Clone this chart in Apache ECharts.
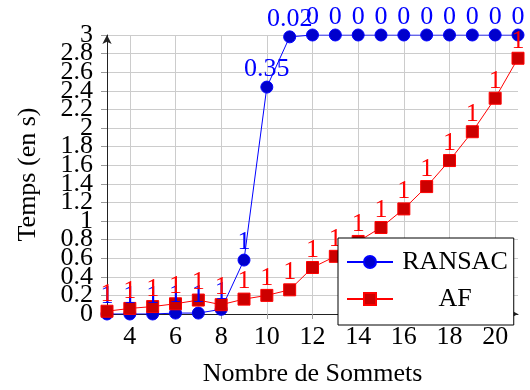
<!DOCTYPE html>
<html>
<head>
<meta charset="utf-8">
<script src="https://cdn.jsdelivr.net/npm/echarts@6/dist/echarts.min.js"></script>
<style>
  html, body { margin: 0; padding: 0; background: #fff; }
  #main { width: 530px; height: 390px; }
</style>
</head>
<body>
<div id="main"></div>
<script>
// données
var sommets = [3, 4, 5, 6, 7, 8, 9, 10, 11, 12, 13, 14, 15, 16, 17, 18, 19, 20, 21];
var ransac = [0.0, 0.0, 0.0, 0.01, 0.01, 0.05, 0.58, 2.44, 2.98, 3, 3, 3, 3, 3, 3, 3, 3, 3, 3];
var af = [0.03, 0.06, 0.08, 0.11, 0.15, 0.10, 0.16, 0.20, 0.26, 0.50, 0.62, 0.78, 0.93, 1.13, 1.37, 1.65, 1.96, 2.32, 2.75];
var ransacLabels = ['1', '1', '1', '1', '1', '1', '1', '0.35', '0.02', '0', '0', '0', '0', '0', '0', '0', '0', '0', '0'];
var afLabels = ['1', '1', '1', '1', '1', '1', '1', '1', '1', '1', '1', '1', '1', '1', '1', '1', '1', '1', '1'];
var xTicks = [4, 6, 8, 10, 12, 14, 16, 18, 20];
var yTicks = [0, 0.2, 0.4, 0.6, 0.8, 1, 1.2, 1.4, 1.6, 1.8, 2, 2.2, 2.4, 2.6, 2.8, 3];
var yEnds = [0, 3];

var police = 'Liberation Serif';
var taille = 26;

function points(vals) {
    return sommets.map(function (s, i) { return [s, vals[i]]; });
}

var labelY = {
    margin: 14, fontFamily: police, fontSize: taille, color: '#000',
    hideOverlap: false
};

var myChart = echarts.init(document.getElementById('main'));

var option = {
    animation: false,
    textStyle: { fontFamily: police },
    grid: { left: 107, right: 12, top: 35, bottom: 76, outerBoundsMode: 'none' },
    legend: {
        left: 338, top: 238,
        orient: 'vertical',
        backgroundColor: '#fff',
        borderColor: '#000',
        borderWidth: 1,
        borderRadius: 0,
        padding: [11, 6, 13, 8],
        itemWidth: 46,
        itemHeight: 15,
        itemGap: 11,
        formatter: function (n) { return '{a|' + n + '}'; },
        textStyle: {
            fontFamily: police, fontSize: taille, color: '#000',
            rich: { a: { fontFamily: police, fontSize: taille, width: 114, align: 'center' } }
        },
        data: ['RANSAC', 'AF']
    },
    xAxis: {
        type: 'value',
        min: 3, max: 21,
        name: 'Nombre de Sommets',
        nameLocation: 'middle',
        nameGap: 47,
        nameTextStyle: { fontFamily: police, fontSize: taille, color: '#000' },
        axisLine: { lineStyle: { color: '#222', width: 1 }, symbol: ['none', 'arrow'], symbolSize: [7, 9] },
        axisTick: { customValues: xTicks, length: 5, lineStyle: { color: '#999' } },
        axisLabel: {
            customValues: xTicks, margin: 10, verticalAlign: 'top', lineHeight: 26,
            fontFamily: police, fontSize: taille, color: '#000'
        },
        splitLine: { show: true, lineStyle: { color: '#ccc' } }
    },
    yAxis: [
        {
            type: 'value',
            min: 0, max: 3, interval: 0.2,
            name: 'Temps (en s)',
            nameLocation: 'middle',
            nameRotate: 90,
            nameGap: 66,
            nameTextStyle: { fontFamily: police, fontSize: taille, color: '#000' },
            axisLine: { show: true, lineStyle: { color: '#222', width: 1 }, symbol: ['none', 'arrow'], symbolSize: [7, 9] },
            axisTick: { show: true, length: 6, lineStyle: { color: '#999' } },
            // 0 et 3 laissés vides ici : echarts masquerait 0.2 et 2.8 qui les chevauchent
            axisLabel: Object.assign({
                customValues: yTicks,
                formatter: function (v) { return (v === 0 || v === 3) ? '' : String(v); }
            }, labelY),
            splitLine: { show: true, lineStyle: { color: '#ccc' } }
        },
        {
            type: 'value',
            min: 0, max: 3,
            position: 'left',
            axisLine: { show: false },
            axisTick: { show: false },
            splitLine: { show: false },
            axisLabel: Object.assign({
                customValues: yEnds, showMinLabel: true, showMaxLabel: true,
                formatter: function (v) { return String(v); }
            }, labelY)
        }
    ],
    series: [
        {
            name: 'RANSAC',
            type: 'line',
            data: points(ransac),
            symbol: 'circle',
            symbolSize: 12,
            lineStyle: { color: '#0000ff', width: 1 },
            itemStyle: { color: '#0000cc', borderColor: '#0000ff', borderWidth: 1 },
            label: {
                show: true, position: 'top', distance: -2,
                fontFamily: police, fontSize: taille, color: '#0000ff',
                formatter: function (p) { return ransacLabels[p.dataIndex]; }
            }
        },
        {
            name: 'AF',
            type: 'line',
            data: points(af),
            symbol: 'rect',
            symbolSize: 12,
            lineStyle: { color: '#ff0000', width: 1 },
            itemStyle: { color: '#cc0000', borderColor: '#ff0000', borderWidth: 1 },
            label: {
                show: true, position: 'top', distance: -2,
                fontFamily: police, fontSize: taille, color: '#ff0000',
                formatter: function (p) { return afLabels[p.dataIndex]; }
            }
        }
    ]
};

myChart.setOption(option);
</script>
</body>
</html>
